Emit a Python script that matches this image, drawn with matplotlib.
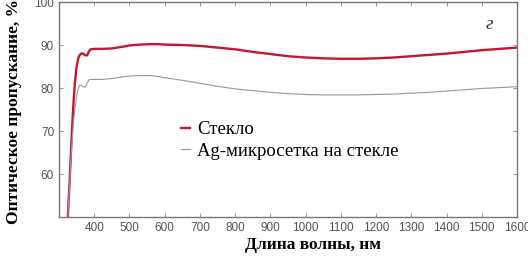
import numpy as np
import matplotlib.pyplot as plt

wl = [325, 330, 335, 340, 345, 350, 355, 360, 365, 370, 375, 380, 385, 390,
      400, 420, 450, 480, 500, 530, 560, 580, 600, 650, 700, 750, 800, 850,
      900, 950, 1000, 1050, 1100, 1150, 1200, 1250, 1300, 1350, 1400, 1450,
      1500, 1550, 1600]
glass = [50, 58, 67, 75, 81, 85, 87, 87.8, 88.1, 87.9, 87.6, 87.6, 88.5, 89.0,
         89.1, 89.1, 89.2, 89.6, 89.9, 90.1, 90.2, 90.2, 90.1, 90.0, 89.8, 89.4,
         89.0, 88.4, 87.9, 87.4, 87.1, 86.9, 86.8, 86.8, 86.9, 87.1, 87.4, 87.7,
         88.0, 88.4, 88.8, 89.1, 89.4]
mesh = [50, 57, 65, 71, 75, 78, 80, 80.7, 80.6, 80.2, 80.3, 81.2, 81.9, 82.0,
        82.0, 82.0, 82.2, 82.6, 82.8, 82.9, 82.9, 82.7, 82.4, 81.8, 81.1, 80.4,
        79.8, 79.4, 79.0, 78.7, 78.5, 78.4, 78.4, 78.4, 78.5, 78.6, 78.8, 79.0,
        79.3, 79.6, 79.9, 80.1, 80.3]

xticks = list(range(400, 1601, 100))
yticks = [50, 60, 70, 80, 90, 100]
ytick_labels = ['', '60', '70', '80', '90', '100']

fig = plt.figure(figsize=(5.28, 2.68), dpi=100)
ax = fig.add_axes([0.1117, 0.19, 0.8675, 0.8025])

ax.plot(wl, glass, color='#c4182c', lw=1.7, label='Стекло')
ax.plot(wl, mesh, color='#9098a8', lw=0.8, label='Ag-микросетка на стекле')

ax.set_xlim(300, 1600)
ax.set_ylim(50, 100)
ax.set_xticks(xticks)
ax.set_yticks(yticks)
ax.set_yticklabels(ytick_labels)
ax.tick_params(direction='in', length=3, width=0.6, colors='#888888',
               labelcolor='#555555', labelsize=8.5, top=True, right=True)
for lab in ax.get_xticklabels() + ax.get_yticklabels():
    lab.set_family('Liberation Sans')
for s in ax.spines.values():
    s.set_color('#777777')
    s.set_linewidth(1.0)

fig.text(0.592, 0.085, 'Длина волны, нм', family='Liberation Serif',
         fontweight='bold', fontsize=12.5, ha='center', va='center')
fig.text(0.027, 0.585, 'Оптическое пропускание, %', family='Liberation Serif',
         fontweight='bold', fontsize=12.5, ha='center', va='center',
         rotation=90)

ax.text(0.939, 0.895, 'г', transform=ax.transAxes, family='Liberation Serif',
        style='italic', fontsize=14, color='#333333', ha='center', va='center')

leg = ax.legend(loc='upper left', bbox_to_anchor=(0.25, 0.48), frameon=False,
                prop={'family': 'Liberation Serif', 'size': 13.5},
                handlelength=0.5, handletextpad=0.35, labelspacing=0.22,
                borderaxespad=0)

fig.savefig('out.png', dpi=100)
